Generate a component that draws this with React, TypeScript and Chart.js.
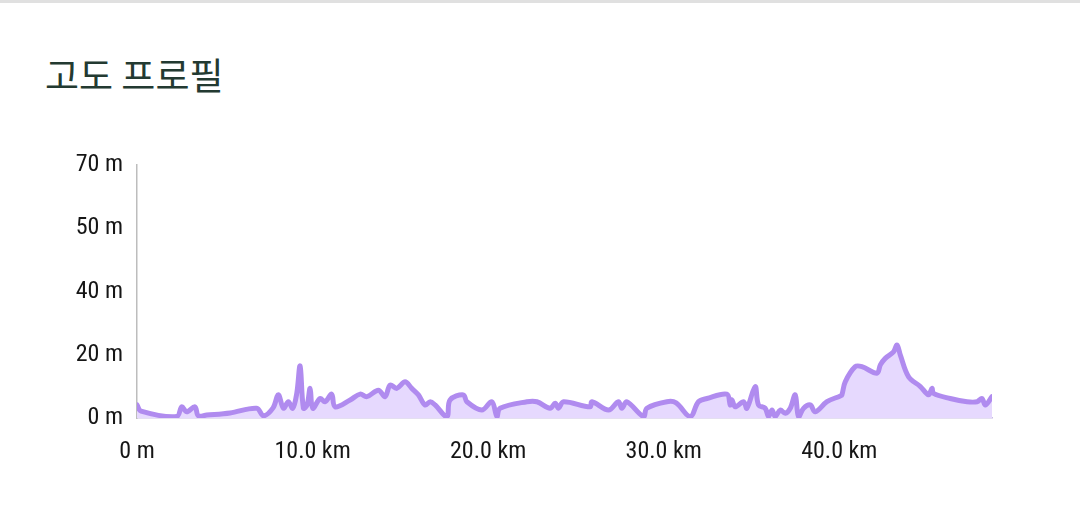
import React, { useEffect, useRef } from "react";
import { Chart, registerables } from "chart.js";

Chart.register(...registerables);

const distanceKm = [
  0, 0.23, 2.26, 2.55, 2.83, 3.3, 3.49, 3.97, 5.3, 6.82, 7.2, 7.75, 8.05, 8.34, 8.62, 8.87,
  9.1, 9.29, 9.48, 9.69, 9.86, 10.01, 10.43, 10.71, 11.09, 11.28, 12.14, 12.71, 13.09, 13.75,
  14.13, 14.42, 14.8, 15.27, 15.65, 16.03, 16.41, 16.7, 16.98, 17.65, 17.83, 18.59, 18.79,
  19.64, 20.21, 20.5, 20.68, 22.21, 22.78, 23.53, 23.82, 24.01, 24.29, 25.81, 25.91, 26.86,
  27.42, 27.62, 27.9, 28.85, 29.04, 30.18, 30.71, 31.51, 31.98, 32.46, 33.6, 33.79, 33.89,
  34.07, 34.55, 34.74, 35.21, 35.4, 35.78, 35.97, 36.17, 36.35, 36.64, 36.92, 37.21, 37.49,
  37.68, 37.97, 38.35, 38.63, 39.3, 40.06, 40.15, 40.34, 40.91, 41.29, 42.15, 42.34, 42.62,
  43.09, 43.29, 43.48, 43.95, 44.62, 45.09, 45.28, 45.37, 46.32, 47.28, 47.85, 48.13, 48.32,
  48.7,
];

const elevationM = [
  3.6, 1.9, 0.4, 3.1, 1.7, 3.1, 0.6, 0.8, 1.4, 2.7, 0.6, 2.8, 6.4, 2.7, 4.5, 2.7,
  6.8, 14.4, 2.7, 3.6, 8.2, 2.7, 5.4, 4.5, 6.6, 3.1, 5.0, 6.6, 5.9, 7.7,
  5.9, 9.1, 8.2, 10.0, 8.2, 6.4, 3.6, 4.5, 3.6, 0.4, 5.0, 6.4, 4.5,
  2.2, 4.5, 0.4, 2.7, 4.5, 4.5, 2.7, 4.1, 2.7, 4.5, 3.1, 4.5, 2.2,
  4.5, 2.7, 4.5, 0.4, 2.7, 4.5, 4.2, 0.4, 4.5, 5.4, 6.6, 3.6, 5.0,
  3.1, 4.5, 2.7, 8.7, 3.6, 2.7, 0.4, 2.2, 0.4, 2.2, 1.3, 2.7, 6.4,
  0.4, 2.7, 3.6, 1.7, 4.5, 6.1, 6.4, 10.0, 14.2, 14.2, 12.4, 14.7, 16.5,
  18.3, 20.2, 17.4, 11.4, 8.7, 6.4, 8.2, 6.8, 5.4, 4.5, 4.5, 5.4, 3.6,
  5.9,
];

const xTickValues = [0, 10, 20, 30, 40];
const yTickValues = [0, 17.5, 35, 52.5, 70];
const title = "고도 프로필";

const tickFont: any = { family: "Roboto, sans-serif", size: 24, weight: "condensed" };

export default function App() {
  const ref = useRef<HTMLCanvasElement | null>(null);

  useEffect(() => {
    if (!ref.current) return;
    const points = distanceKm.map((d, i) => ({ x: d, y: elevationM[i] }));
    const chart = new Chart(ref.current, {
      type: "line",
      data: {
        datasets: [
          {
            data: points,
            borderColor: "#b08bef",
            backgroundColor: "#e6d9fe",
            borderWidth: 5,
            fill: "origin",
            pointRadius: 0,
            tension: 0.35,
            borderJoinStyle: "round",
            borderCapStyle: "round",
          },
        ],
      },
      options: {
        animation: false,
        responsive: false,
        devicePixelRatio: 1,
        layout: { padding: { left: 0, right: 88, top: 35, bottom: 0 } },
        plugins: { legend: { display: false }, tooltip: { enabled: false } },
        scales: {
          x: {
            type: "linear",
            min: 0,
            max: 48.7,
            grid: { display: false, drawTicks: false },
            border: { display: true, color: "#c9bfe3", width: 1.5 },
            afterBuildTicks: (s: any) => {
              s.ticks = xTickValues.map((v) => ({ value: v }));
            },
            afterFit: (s: any) => {
              s.height = 72;
            },
            ticks: {
              autoSkip: false,
              maxRotation: 0,
              padding: 20,
              color: "#161616",
              font: tickFont,
              callback: (v: any) => (Number(v) === 0 ? "0 m" : Number(v).toFixed(1) + " km"),
            },
          },
          y: {
            type: "linear",
            min: 0,
            max: 70,
            grid: { display: false, drawTicks: false },
            border: { display: true, color: "#bdbdbd", width: 1.5 },
            afterBuildTicks: (s: any) => {
              s.ticks = yTickValues.map((v) => ({ value: v }));
            },
            afterFit: (s: any) => {
              s.width = 137;
            },
            ticks: {
              autoSkip: false,
              padding: 14,
              color: "#161616",
              font: tickFont,
              callback: (v: any) => Math.round(Number(v) / 10) * 10 + " m",
            },
          },
        },
      },
    });
    return () => chart.destroy();
  }, []);

  return (
    <div
      style={{
        position: "fixed",
        left: 0,
        top: 0,
        width: 1080,
        height: 530,
        background: "#fff",
        borderTop: "3px solid #e0e0e0",
        boxSizing: "border-box",
      }}
    >
      <div
        style={{
          position: "absolute",
          left: 45,
          top: 47,
          fontFamily: "'Noto Sans CJK KR', sans-serif",
          fontSize: 37,
          fontWeight: 400,
          color: "#233a31",
          lineHeight: "48px",
          whiteSpace: "nowrap",
        }}
      >
        {title}
      </div>
      <canvas
        ref={ref}
        width={1080}
        height={360}
        style={{ position: "absolute", left: 0, top: 127, width: 1080, height: 360 }}
      />
    </div>
  );
}
